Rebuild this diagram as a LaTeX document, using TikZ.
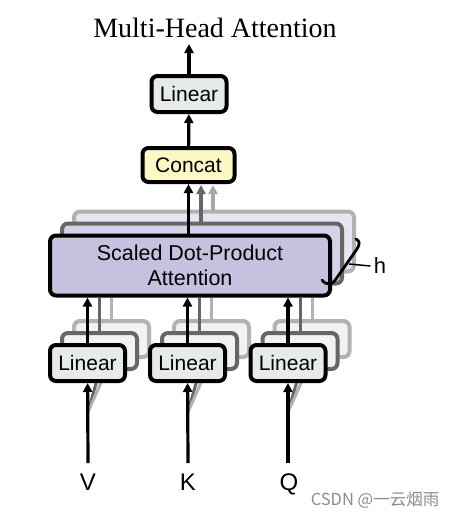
\documentclass[tikz,border=0pt]{standalone}
\usepackage{fontspec}
\setmainfont{Liberation Sans}
\newfontfamily\titlefont{Liberation Serif}
\newfontfamily\cjkfont{Noto Sans CJK SC}
\usetikzlibrary{arrows.meta}
\usetikzlibrary{calc}

\definecolor{linfill}{RGB}{230,235,233}
\definecolor{linback}{RGB}{240,243,242}
\definecolor{catfill}{RGB}{252,248,198}
\definecolor{attfill}{RGB}{199,192,222}
\definecolor{attbackA}{RGB}{214,209,232}
\definecolor{attbackB}{RGB}{231,229,242}

\begin{document}
\begin{tikzpicture}[x=1pt,y=-1pt,
    block/.style={
      % The shape:
      rectangle,rounded corners=6pt,
      % Border
      line width=4pt,draw=black,
      font=\fontsize{21}{25}\selectfont,inner sep=0pt
      },
    linear/.style={block,fill=linfill,minimum width=75pt,minimum height=36pt},
    attn/.style={block,fill=attfill,minimum width=280pt,minimum height=60pt,
      align=center,font=\fontsize{21.5}{25}\selectfont},
    backA/.style={draw=black!60,fill=#1},
    backB/.style={draw=black!30,fill=#1},
    arr/.style={line width=3.2pt,-{Triangle[length=9pt,width=9pt]}},
    grayA/.style={arr,draw=black!60,fill=black!60},
    grayB/.style={arr,draw=black!35,fill=black!35},
    feed/.style={line width=3pt},
    label/.style={anchor=base,font=\fontsize{24}{28}\selectfont}]
  \useasboundingbox (0,0) rectangle (459,520);

  % stacked copies behind
  \node (attnB) [attn,backB=attbackB] at (214,241.5) {};
  \node (attnA) [attn,backA=attbackA] at (202,253.5) {};
  \foreach \n/\x in {v/87.5,k/187.5,q/288}{
    \node (lin\n B) [linear,backB=linback] at (\x+24,339) {};
    \node (lin\n A) [linear,backA=linback] at (\x+12,351) {};
  }

  % gray connectors of the copies
  \draw [grayA] (attnA.north -| 201,0) -- (201,185);
  \draw [grayB] (attnB.north -| 213,0) -- (213,185);
  \foreach \n/\x in {v/88,k/188,q/288}{
    \coordinate (\n fan) at (\x,412);
    \draw [feed,draw=black!60] (\n fan) -- (lin\n A.south);
    \draw [feed,draw=black!30] (\n fan) -- (lin\n B.south);
    \draw [feed,draw=black!60] (lin\n A.north) -- (lin\n A.north |- 0,298);
    \draw [feed,draw=black!30] (lin\n B.north) -- (lin\n B.north |- 0,298);
  }

  % main blocks
  \node (title) [anchor=base] at (215,37) {\titlefont\fontsize{28}{30}\selectfont Multi-Head Attention};
  \node (out) [linear] at (189,94) {Linear};
  \node (concat) [block,fill=catfill,minimum width=92pt,minimum height=34pt] at (188.5,165) {Concat};
  \node (attn) [attn] at (190,265.5) {Scaled Dot-Product\\Attention};
  \node (linv) [linear] at (87.5,363) {Linear};
  \node (link) [linear] at (187.5,363) {Linear};
  \node (linq) [linear] at (288,363) {Linear};

  \node (V) [label] at (88,490) {V};
  \node (K) [label] at (188,490) {K};
  \node (Q) [label] at (289,490) {Q};
  \node (h) [font=\fontsize{22}{25}\selectfont] at (380,266) {h};

  % black arrows
  \coordinate (top) at (189,44);
  \draw [arr] (out) -- (top);
  \draw [arr] (concat) -- (out);
  \draw [arr] (attn.north -| concat.south) -- (concat);
  \foreach \n/\x in {v/88,k/188,q/288}{
    \coordinate (\n in) at (\x,463);
    \draw [arr] (\n in) -- (lin\n);
    \draw [arr] (lin\n) -- (lin\n |- attn.south);
  }

  % bracket for h
  \draw [line width=2.8pt,line cap=round] (322,280) .. controls (327,286) and (332,285) .. (336,279)
    -- (357,249) .. controls (360,244) and (360,241) .. (356,239);
  \coordinate (hx) at (349,264);
  \draw [line width=1.5pt] (hx) -- (h.west);

  \node (mark) [text=black!45,font=\cjkfont\fontsize{16.5}{18}\selectfont] at (375,500) {CSDN @一云烟雨};
\end{tikzpicture}
\end{document}
